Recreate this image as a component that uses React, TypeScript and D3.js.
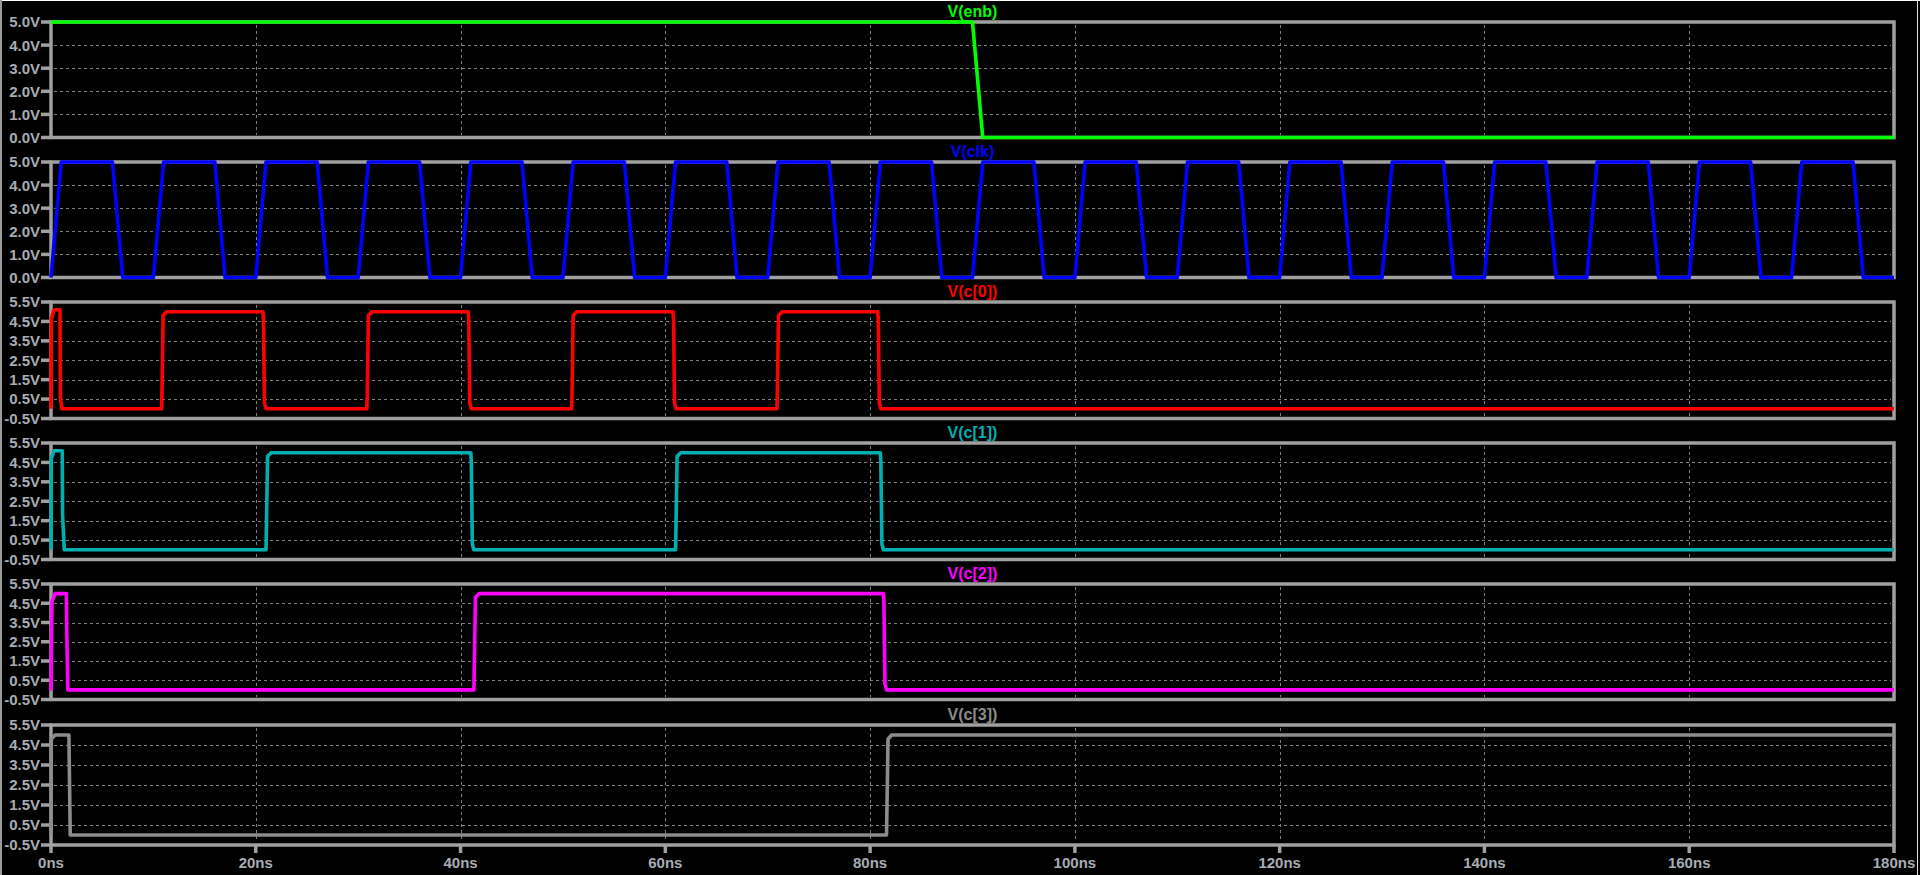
import * as d3 from "d3";

// LTspice-style transient plot: six stacked panes, time in ns, values in V

type Pt = [number, number];

const enb: Pt[] = [[0, 5], [90, 5], [91, 0], [180, 0]];

const clk: Pt[] = [
  [0, 0], [1, 5], [6, 5], [7, 0],
  [10, 0], [11, 5], [16, 5], [17, 0],
  [20, 0], [21, 5], [26, 5], [27, 0],
  [30, 0], [31, 5], [36, 5], [37, 0],
  [40, 0], [41, 5], [46, 5], [47, 0],
  [50, 0], [51, 5], [56, 5], [57, 0],
  [60, 0], [61, 5], [66, 5], [67, 0],
  [70, 0], [71, 5], [76, 5], [77, 0],
  [80, 0], [81, 5], [86, 5], [87, 0],
  [90, 0], [91, 5], [96, 5], [97, 0],
  [100, 0], [101, 5], [106, 5], [107, 0],
  [110, 0], [111, 5], [116, 5], [117, 0],
  [120, 0], [121, 5], [126, 5], [127, 0],
  [130, 0], [131, 5], [136, 5], [137, 0],
  [140, 0], [141, 5], [146, 5], [147, 0],
  [150, 0], [151, 5], [156, 5], [157, 0],
  [160, 0], [161, 5], [166, 5], [167, 0],
  [170, 0], [171, 5], [176, 5], [177, 0],
  [180, 0],
];

const c0: Pt[] = [
  [0, 0], [0.03, 4.6], [0.25, 5.05], [0.4, 5.1], [0.88, 5.1], [0.92, 0.6], [1.05, 0],
  [10.8, 0], [10.85, 1.2], [10.95, 4.8], [11.3, 5],
  [20.7, 5], [20.75, 4.6], [20.85, 0.3], [21.0, 0],
  [30.85, 0], [30.9, 1.2], [31.0, 4.8], [31.35, 5],
  [40.75, 5], [40.8, 4.6], [40.9, 0.3], [41.05, 0],
  [50.85, 0], [50.9, 1.2], [51.0, 4.8], [51.35, 5],
  [60.75, 5], [60.8, 4.6], [60.9, 0.3], [61.05, 0],
  [70.9, 0], [70.95, 1.2], [71.05, 4.8], [71.4, 5],
  [80.75, 5], [80.8, 4.6], [80.9, 0.3], [81.05, 0],
  [180, 0],
];

const c1: Pt[] = [
  [0, 0], [0.03, 4.7], [0.3, 5.1], [1.1, 5.1], [1.13, 1.8], [1.3, 0],
  [21.0, 0], [21.05, 1.5], [21.15, 4.8], [21.5, 5],
  [41.0, 5], [41.05, 4.5], [41.15, 0.3], [41.3, 0],
  [61.0, 0], [61.05, 1.5], [61.15, 4.8], [61.5, 5],
  [81.0, 5], [81.05, 4.5], [81.15, 0.3], [81.3, 0],
  [180, 0],
];

const c2: Pt[] = [
  [0, -0.05], [0.05, 2.5], [0.1, 4.6], [0.4, 5.0], [1.5, 5.0], [1.53, 3.3], [1.65, 0],
  [41.3, 0], [41.35, 1.5], [41.45, 4.8], [41.8, 5],
  [81.3, 5], [81.35, 4.5], [81.45, 0.3], [81.6, 0],
  [180, 0],
];

const c3: Pt[] = [
  [0, 0], [0.03, 4.8], [0.4, 5.0], [1.75, 5.0], [1.78, 3.75], [1.88, 0],
  [81.6, 0], [81.65, 1.5], [81.75, 4.8], [82.1, 5],
  [180, 5],
];

const ticksInt = [0, 1, 2, 3, 4, 5];
const ticksHalf = [-0.5, 0.5, 1.5, 2.5, 3.5, 4.5, 5.5];
const timeTicks = [0, 20, 40, 60, 80, 100, 120, 140, 160, 180];

const panes = [
  { name: "V(enb)", data: enb, color: "#00ff00", ticks: ticksInt, domain: [0, 5] },
  { name: "V(clk)", data: clk, color: "#0000ff", ticks: ticksInt, domain: [0, 5] },
  { name: "V(c[0])", data: c0, color: "#ff0000", ticks: ticksHalf, domain: [-0.5, 5.5] },
  { name: "V(c[1])", data: c1, color: "#00b0b0", ticks: ticksHalf, domain: [-0.5, 5.5] },
  { name: "V(c[2])", data: c2, color: "#ff00ff", ticks: ticksHalf, domain: [-0.5, 5.5] },
  { name: "V(c[3])", data: c3, color: "#8c8c8c", ticks: ticksHalf, domain: [-0.5, 5.5] },
];

// layout
const W = 1920;
const H = 875;
const X0 = 51;
const X1 = 1894;
const PANE_TOP = [22, 162, 302, 443, 584, 725];
const PANE_BOT = [137.5, 277.5, 418.5, 559.5, 699.5, 845];
const FRAME = "#a0a0a0";
const GRID = "#808080";
const LABEL = "#a8acb4";
const FONT = "'Liberation Sans', Arial, sans-serif";

export default function App() {
  const x = d3.scaleLinear().domain([0, 180]).range([X0, X1]);
  const line = d3.line<Pt>().x(d => x(d[0]));

  return (
    <svg width={W} height={H} style={{ position: "absolute", left: 0, top: 0, display: "block", background: "#000" }}>
      <rect x={0} y={0} width={W} height={H} fill="#000" />
      <line x1={0} y1={0.5} x2={W} y2={0.5} stroke="#ffffff" />
      <line x1={1} y1={0} x2={1} y2={H} stroke="#9a9a9a" strokeWidth={2} />
      <line x1={1917.5} y1={0} x2={1917.5} y2={H} stroke="#e0e0e0" />

      {panes.map((p, i) => {
        const top = PANE_TOP[i];
        const bot = PANE_BOT[i];
        const y = d3.scaleLinear().domain(p.domain).range([bot, top]);
        const isLast = i === panes.length - 1;
        return (
          <g key={p.name}>
            {/* horizontal grid */}
            {p.ticks.slice(1, -1).map(t => (
              <line key={"h" + t} x1={X0 + 3} x2={X1 - 3} y1={Math.round(y(t)) + 0.5} y2={Math.round(y(t)) + 0.5}
                stroke={GRID} strokeDasharray="3,3" shapeRendering="crispEdges" />
            ))}
            {/* vertical grid */}
            {timeTicks.slice(1, -1).map(t => (
              <line key={"v" + t} x1={Math.round(x(t)) + 0.5} x2={Math.round(x(t)) + 0.5} y1={top + 3} y2={bot - 3}
                stroke={GRID} strokeDasharray="3,3" shapeRendering="crispEdges" />
            ))}
            {/* frame */}
            <path d={`M${X0},${top}H${X1}V${bot}H${X0}Z`} fill="none" stroke={FRAME} strokeWidth={3.5} />
            {/* y ticks + labels */}
            {p.ticks.map(t => (
              <g key={"t" + t}>
                <line x1={41} x2={X0} y1={y(t)} y2={y(t)} stroke={FRAME} strokeWidth={3.5} />
                <text x={40} y={y(t)} dy="0.36em" textAnchor="end" fill={LABEL}
                  fontFamily={FONT} fontWeight="bold" fontSize={15}>
                  {t.toFixed(1) + "V"}
                </text>
              </g>
            ))}
            {/* x ticks on the bottom pane */}
            {isLast && timeTicks.map(t => (
              <g key={"x" + t}>
                <line x1={x(t)} x2={x(t)} y1={bot} y2={bot + 8} stroke={FRAME} strokeWidth={3.5} />
                <text x={x(t)} y={868} textAnchor="middle" fill={LABEL}
                  fontFamily={FONT} fontWeight="bold" fontSize={15}>
                  {t + "ns"}
                </text>
              </g>
            ))}
            {/* title */}
            <text x={(X0 + X1) / 2} y={top - 5} textAnchor="middle" fill={p.color}
              fontFamily={FONT} fontWeight="bold" fontSize={16}>
              {p.name}
            </text>
          </g>
        );
      })}

      {/* traces on top of frames */}
      {panes.map((p, i) => {
        const y = d3.scaleLinear().domain(p.domain).range([PANE_BOT[i], PANE_TOP[i]]);
        return (
          <path key={"tr" + p.name} d={line.y(d => y(d[1]))(p.data) ?? ""} fill="none"
            stroke={p.color} strokeWidth={3.6} strokeLinejoin="round" />
        );
      })}
    </svg>
  );
}
